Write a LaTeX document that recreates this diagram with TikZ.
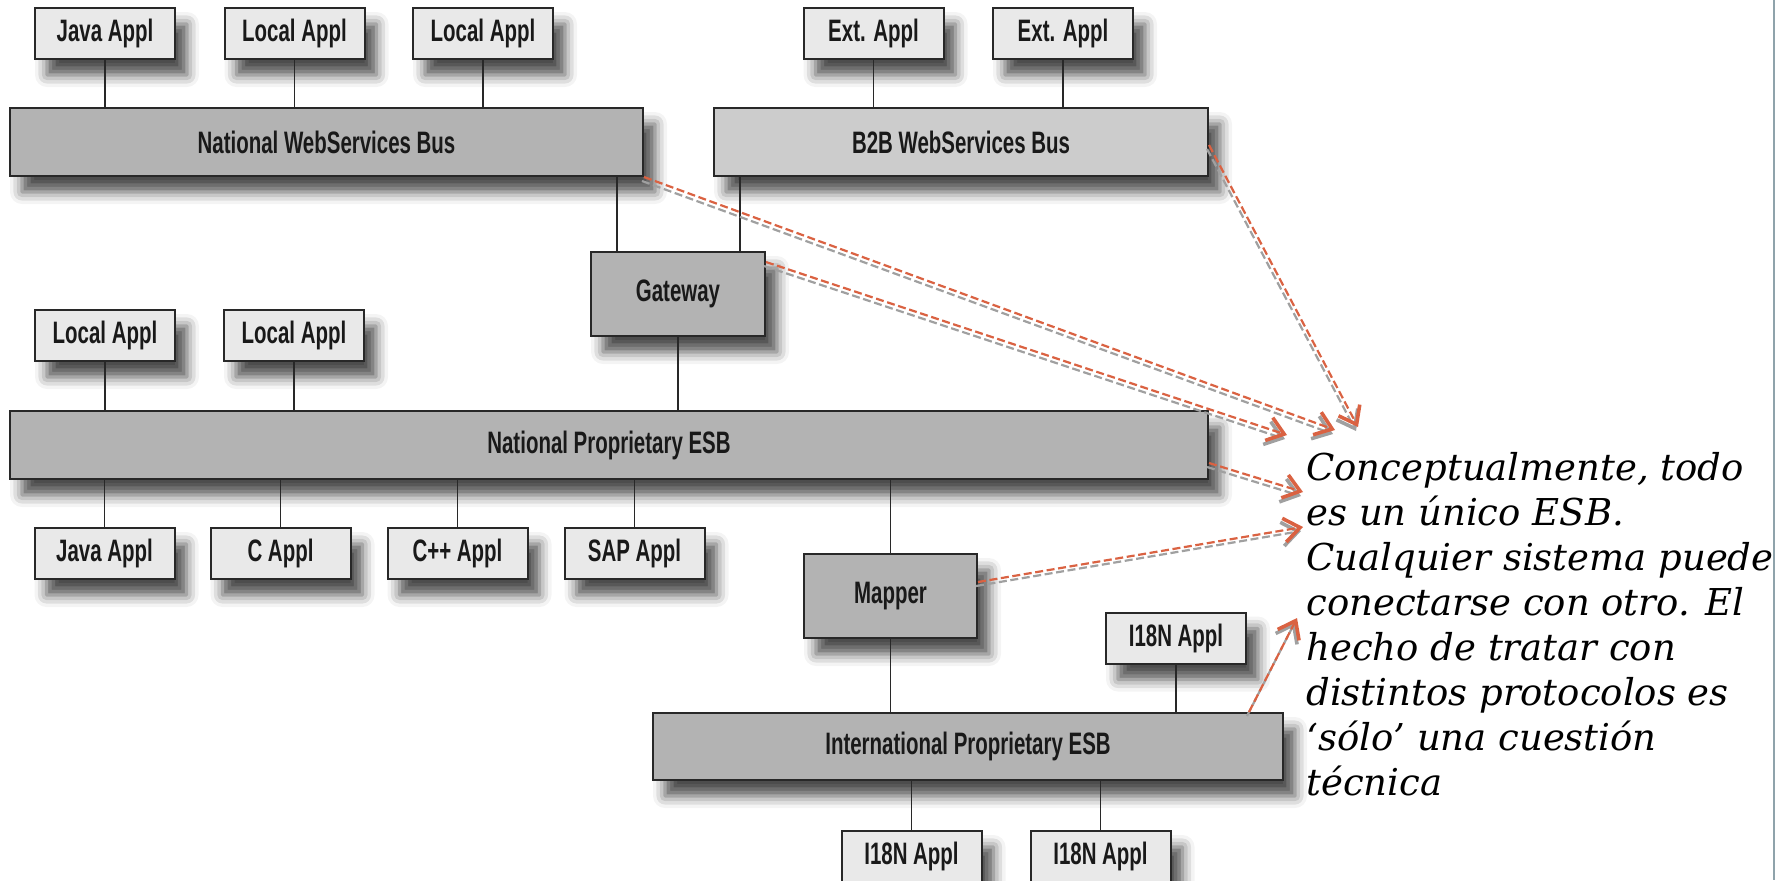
\documentclass[tikz,border=0pt]{standalone}
\usepackage{fontspec}
\usetikzlibrary{arrows.meta,shadows.blur}
\newfontfamily\cajafont{Liberation Sans}[FakeStretch=0.66]
\newfontfamily\notafont{DejaVu Serif}
\definecolor{naranja}{RGB}{218,98,66}
\definecolor{sombragris}{RGB}{160,160,160}
\definecolor{claro}{RGB}{233,233,233}
\definecolor{medio}{RGB}{179,179,179}
\definecolor{b2bgris}{RGB}{204,204,204}
\definecolor{borde}{RGB}{40,40,40}
\definecolor{margen}{RGB}{143,163,171}

\tikzset{caja/.style = {draw=borde, line width=1pt, fill=claro, minimum width=#1,
                        minimum height=25.5pt, inner sep=0pt, text=black!90,
                        font=\cajafont\bfseries\fontsize{15.5}{17}\selectfont,
                        blur shadow={shadow xshift=6pt, shadow yshift=-8pt,
                                     shadow blur radius=6pt, shadow opacity=70}},
         caja/.default=70pt,
         bus/.style = {caja=#1, fill=medio, minimum height=34pt},
         enlace/.style = {draw=borde, line width=0.8pt},
         flecha/.style = {naranja, line width=1.1pt, dash pattern=on 4pt off 1.8pt,
                          -{Straight Barb[length=8pt,width=12pt,line width=1.8pt]}},
         sombra/.style = {flecha, sombragris, transform canvas={xshift=-1pt,yshift=-2pt}}
        }

\begin{document}
\begin{tikzpicture}[x=0.5pt,y=-0.5pt]
  \useasboundingbox (0,0) rectangle (1787,880);
  % buses de arriba
  \node[caja] (ja1) at (105,33.5)  {Java Appl};
  \node[caja] (la1) at (294.5,33.5) {Local Appl};
  \node[caja] (la2) at (483,33.5)  {Local Appl};
  \node[caja] (ea1) at (873.5,33.5) {Ext. Appl};
  \node[caja] (ea2) at (1063,33.5) {Ext. Appl};
  \node[bus=316.5pt] (nws) at (326.5,142) {National WebServices Bus};
  \node[bus=247pt, fill=b2bgris] (b2b) at (961,142) {B2B WebServices Bus};
  \node[bus=87pt, minimum height=42pt] (gw) at (678,294) {Gateway};
  % ESB nacional
  \node[caja] (la3) at (105,335.5) {Local Appl};
  \node[caja] (la4) at (294,335.5) {Local Appl};
  \node[bus=599pt] (npe) at (609,445) {National Proprietary ESB};
  \node[caja] (ja2) at (104.5,553.5) {Java Appl};
  \node[caja] (ca)  at (280.5,553.5) {C Appl};
  \node[caja] (cpp) at (457.5,553.5) {C++ Appl};
  \node[caja] (sap) at (634.5,553.5) {SAP Appl};
  \node[bus=86.5pt, minimum height=42pt] (mp) at (890.5,596) {Mapper};
  % ESB internacional
  \node[caja] (ia1) at (1176,638) {I18N Appl};
  \node[bus=315pt, minimum height=33.5pt] (ipe) at (968,746.5) {International Proprietary ESB};
  \node[caja] (ia2) at (911.5,856.5) {I18N Appl};
  \node[caja] (ia3) at (1100.5,856.5) {I18N Appl};

  \foreach \a/\b in {ja1/nws, la1/nws, la2/nws, ea1/b2b, ea2/b2b, la3/npe, la4/npe, gw/npe, mp/ipe, ia1/ipe}
    \draw[enlace] (\a.south) -- (\a.south |- \b.north);
  \foreach \a/\b in {ja2/npe, ca/npe, cpp/npe, sap/npe, mp/npe, ia2/ipe, ia3/ipe}
    \draw[enlace] (\a.north) -- (\a.north |- \b.south);
  \draw[enlace] ([xshift=-30.5pt]gw.north) -- ([xshift=-30.5pt]gw.north |- nws.south);
  \draw[enlace] ([xshift=31pt]gw.north) -- ([xshift=31pt]gw.north |- b2b.south);

  % nota
  \draw[margen, line width=1pt] (1774,0) -- (1774,880);
  \node[anchor=north west, inner sep=0pt, align=left,
        font=\notafont\itshape\fontsize{18.5}{22.5}\selectfont] (nota) at (1306,452)
       {Conceptualmente, todo\\ es un único ESB.\\ Cualquier sistema puede\\ conectarse con otro. El\\
        hecho de tratar con\\ distintos protocolos es\\ ‘sólo’ una cuestión\\ técnica};

  \coordinate (s2) at ([yshift=-5.5pt]gw.north east);
  \coordinate (s3) at ([yshift=-1.5pt]b2b.east);
  \coordinate (s4) at ([yshift=-9pt]npe.east);
  \coordinate (s5) at ([yshift=7pt]mp.east);
  \coordinate (s6) at ([xshift=-17.5pt]ipe.north east);
  \coordinate (t1) at (1335,430);
  \coordinate (t2) at (1287,435);
  \coordinate (t3) at (1358,427);
  \coordinate (t4) at (1303,492);
  \coordinate (t5) at (1303,527);
  \coordinate (t6) at (1297,618);
  \foreach \a/\b in {nws.south east/t1, s2/t2, s3/t3, s4/t4, s5/t5, s6/t6} {
    \draw[sombra] (\a) -- (\b);
    \draw[flecha] (\a) -- (\b);
  }
\end{tikzpicture}
\end{document}
